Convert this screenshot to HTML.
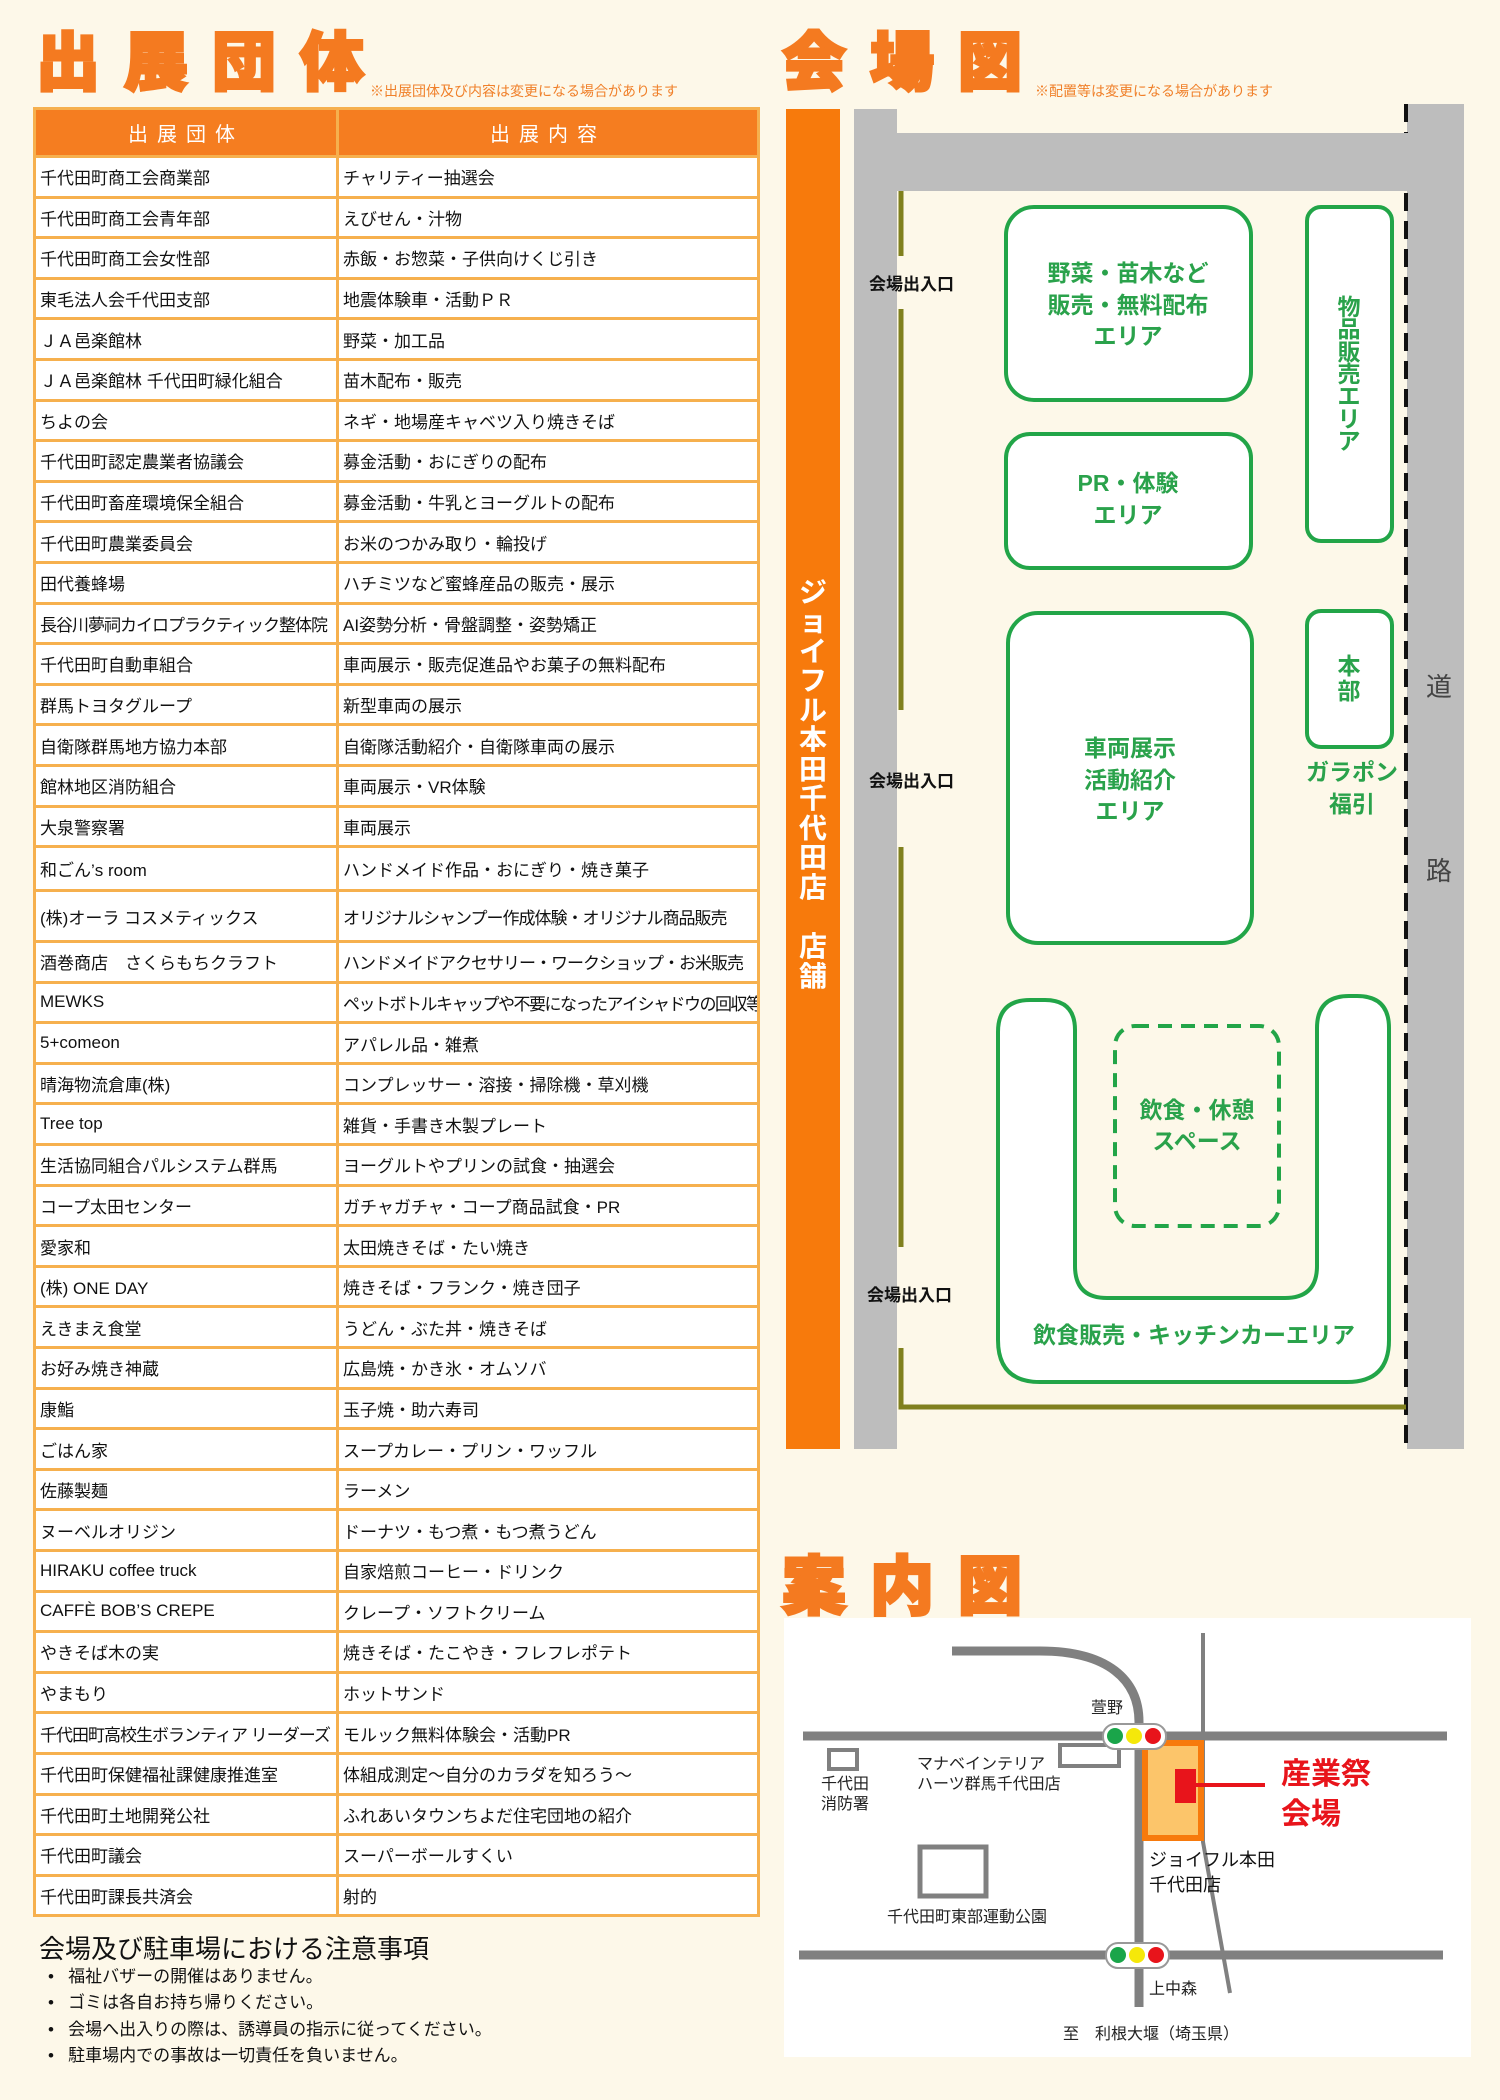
<!DOCTYPE html>
<html><head><meta charset="utf-8">
<style>
*{margin:0;padding:0;box-sizing:border-box}
body{width:1500px;height:2100px;background:#fdf8e9;position:relative;overflow:hidden;font-family:"Liberation Sans","Noto Sans CJK JP",sans-serif}
.abs{position:absolute}
.big{font-family:"Noto Sans CJK JP",sans-serif;font-weight:900;color:#f47a20;-webkit-text-stroke:3px #f47a20;font-size:64px;letter-spacing:24px;line-height:1;white-space:nowrap}
.note{color:#f0802a;font-size:14px;white-space:nowrap}
table{position:absolute;left:33px;top:107px;width:724px;border-collapse:collapse;table-layout:fixed}
td,th{border:3px solid #f6b04e;font-size:17px;color:#111;padding:0 0 0 4px;white-space:nowrap;overflow:hidden;background:#fff;text-align:left}
th{background:#f57d20;color:#fff;font-weight:normal;font-size:20px;letter-spacing:9px;text-align:center;padding:0}
tr{height:40.6px}
</style></head><body>
<div class="abs big" style="left:36px;top:26px">出展団体</div>
<div class="abs note" style="left:370px;top:81px">※出展団体及び内容は変更になる場合があります</div>
<div class="abs big" style="left:782px;top:26px">会場図</div>
<div class="abs note" style="left:1035px;top:81px">※配置等は変更になる場合があります</div>
<div class="abs big" style="left:782px;top:1550px">案内図</div>

<table>
<colgroup><col style="width:303px"><col style="width:421px"></colgroup>
<tr style="height:48px"><th>出展団体</th><th>出展内容</th></tr>
<tr><td>千代田町商工会商業部</td><td>チャリティー抽選会</td></tr>
<tr><td>千代田町商工会青年部</td><td>えびせん・汁物</td></tr>
<tr><td>千代田町商工会女性部</td><td>赤飯・お惣菜・子供向けくじ引き</td></tr>
<tr><td>東毛法人会千代田支部</td><td>地震体験車・活動ＰＲ</td></tr>
<tr><td>ＪＡ邑楽館林</td><td>野菜・加工品</td></tr>
<tr><td>ＪＡ邑楽館林 千代田町緑化組合</td><td>苗木配布・販売</td></tr>
<tr><td>ちよの会</td><td>ネギ・地場産キャベツ入り焼きそば</td></tr>
<tr><td>千代田町認定農業者協議会</td><td>募金活動・おにぎりの配布</td></tr>
<tr><td>千代田町畜産環境保全組合</td><td>募金活動・牛乳とヨーグルトの配布</td></tr>
<tr><td>千代田町農業委員会</td><td>お米のつかみ取り・輪投げ</td></tr>
<tr><td>田代養蜂場</td><td>ハチミツなど蜜蜂産品の販売・展示</td></tr>
<tr><td style="letter-spacing:-1px">長谷川夢祠カイロプラクティック整体院</td><td>AI姿勢分析・骨盤調整・姿勢矯正</td></tr>
<tr><td>千代田町自動車組合</td><td>車両展示・販売促進品やお菓子の無料配布</td></tr>
<tr><td>群馬トヨタグループ</td><td>新型車両の展示</td></tr>
<tr><td>自衛隊群馬地方協力本部</td><td>自衛隊活動紹介・自衛隊車両の展示</td></tr>
<tr><td>館林地区消防組合</td><td>車両展示・VR体験</td></tr>
<tr><td>大泉警察署</td><td>車両展示</td></tr>
<tr style="height:44px"><td>和ごん’s room</td><td>ハンドメイド作品・おにぎり・焼き菓子</td></tr>
<tr style="height:51px"><td>(株)オーラ コスメティックス</td><td style="letter-spacing:-1px">オリジナルシャンプー作成体験・オリジナル商品販売</td></tr>
<tr><td>酒巻商店　さくらもちクラフト</td><td style="letter-spacing:-1px">ハンドメイドアクセサリー・ワークショップ・お米販売</td></tr>
<tr><td>MEWKS</td><td style="letter-spacing:-1.5px">ペットボトルキャップや不要になったアイシャドウの回収等</td></tr>
<tr><td>5+comeon</td><td>アパレル品・雑煮</td></tr>
<tr><td>晴海物流倉庫(株)</td><td>コンプレッサー・溶接・掃除機・草刈機</td></tr>
<tr><td>Tree top</td><td>雑貨・手書き木製プレート</td></tr>
<tr><td>生活協同組合パルシステム群馬</td><td>ヨーグルトやプリンの試食・抽選会</td></tr>
<tr><td>コープ太田センター</td><td>ガチャガチャ・コープ商品試食・PR</td></tr>
<tr><td>愛家和</td><td>太田焼きそば・たい焼き</td></tr>
<tr><td>(株) ONE DAY</td><td>焼きそば・フランク・焼き団子</td></tr>
<tr><td>えきまえ食堂</td><td>うどん・ぶた丼・焼きそば</td></tr>
<tr><td>お好み焼き神蔵</td><td>広島焼・かき氷・オムソバ</td></tr>
<tr><td>康鮨</td><td>玉子焼・助六寿司</td></tr>
<tr><td>ごはん家</td><td>スープカレー・プリン・ワッフル</td></tr>
<tr><td>佐藤製麺</td><td>ラーメン</td></tr>
<tr><td>ヌーベルオリジン</td><td>ドーナツ・もつ煮・もつ煮うどん</td></tr>
<tr><td>HIRAKU coffee truck</td><td>自家焙煎コーヒー・ドリンク</td></tr>
<tr><td>CAFFÈ BOB’S CREPE</td><td>クレープ・ソフトクリーム</td></tr>
<tr><td>やきそば木の実</td><td>焼きそば・たこやき・フレフレポテト</td></tr>
<tr><td>やまもり</td><td>ホットサンド</td></tr>
<tr><td style="letter-spacing:-1px">千代田町高校生ボランティア リーダーズ</td><td>モルック無料体験会・活動PR</td></tr>
<tr><td>千代田町保健福祉課健康推進室</td><td>体組成測定～自分のカラダを知ろう～</td></tr>
<tr><td>千代田町土地開発公社</td><td>ふれあいタウンちよだ住宅団地の紹介</td></tr>
<tr><td>千代田町議会</td><td>スーパーボールすくい</td></tr>
<tr><td>千代田町課長共済会</td><td>射的</td></tr>
</table>

<div class="abs" style="left:39px;top:1929px;font-size:26px;color:#111;white-space:nowrap">会場及び駐車場における注意事項</div>
<div class="abs" style="left:48px;top:1964px;font-size:17px;line-height:26.3px;color:#111;white-space:nowrap">
<div>•&nbsp;&nbsp;&nbsp;福祉バザーの開催はありません。</div>
<div>•&nbsp;&nbsp;&nbsp;ゴミは各自お持ち帰りください。</div>
<div>•&nbsp;&nbsp;&nbsp;会場へ出入りの際は、誘導員の指示に従ってください。</div>
<div>•&nbsp;&nbsp;&nbsp;駐車場内での事故は一切責任を負いません。</div>
</div>

<svg class="abs" style="left:0;top:0" width="1500" height="2100" viewBox="0 0 1500 2100" font-family="Liberation Sans, Noto Sans CJK JP, sans-serif">
<rect x="786" y="109" width="54" height="1340" fill="#f77a0c"/>
<g fill="#fff" font-size="28" font-weight="bold" text-anchor="middle">
<text x="813" y="602">ジ</text><text x="813" y="631">ョ</text><text x="813" y="661">イ</text><text x="813" y="690">フ</text><text x="813" y="720">ル</text><text x="813" y="749">本</text><text x="813" y="779">田</text><text x="813" y="808">千</text><text x="813" y="838">代</text><text x="813" y="867">田</text><text x="813" y="897">店</text><text x="813" y="956">店</text><text x="813" y="986">舗</text>
</g>
<rect x="854" y="109" width="43" height="1340" fill="#bdbdbd"/>
<rect x="897" y="133" width="510" height="58" fill="#bdbdbd"/>
<rect x="1407" y="104" width="57" height="1345" fill="#bdbdbd"/>
<line x1="1406" y1="104" x2="1406" y2="133" stroke="#111" stroke-width="4" stroke-dasharray="18 10"/>
<line x1="1406" y1="193" x2="1406" y2="1449" stroke="#111" stroke-width="4" stroke-dasharray="18 10"/>
<g stroke="#80801e" stroke-width="5" fill="none">
<line x1="901" y1="191" x2="901" y2="256"/>
<line x1="901" y1="309" x2="901" y2="710"/>
<line x1="901" y1="847" x2="901" y2="1247"/>
<polyline points="901,1348 901,1407 1406,1407"/>
</g>
<g font-size="17" font-weight="bold" fill="#111">
<text x="869" y="290">会場出入口</text>
<text x="869" y="787">会場出入口</text>
<text x="867" y="1301">会場出入口</text>
</g>
<g fill="#fff" stroke="#22a548" stroke-width="4">
<rect x="1006" y="207" width="245" height="193" rx="28"/>
<rect x="1006" y="434" width="245" height="134" rx="24"/>
<rect x="1307" y="207" width="85" height="334" rx="14"/>
<rect x="1008" y="613" width="244" height="330" rx="30"/>
<rect x="1307" y="611" width="85" height="136" rx="14"/>
<path d="M1030,1000 L1045,1000 Q1075,1000 1075,1030 L1075,1266 Q1075,1298 1107,1298 L1285,1298 Q1317,1298 1317,1266 L1317,1028 Q1317,996 1349,996 L1357,996 Q1389,996 1389,1028 L1389,1340 Q1389,1382 1347,1382 L1040,1382 Q998,1382 998,1340 L998,1032 Q998,1000 1030,1000 Z"/>
<rect x="1115" y="1026" width="164" height="200" rx="20" fill="none" stroke-dasharray="14 9"/>
</g>
<g fill="#2aa24b" font-size="23" font-weight="bold" text-anchor="middle">
<text x="1128" y="281">野菜・苗木など</text>
<text x="1128" y="313">販売・無料配布</text>
<text x="1128" y="344">エリア</text>
<text x="1128" y="491">PR・体験</text>
<text x="1128" y="523">エリア</text>
<text x="1130" y="756">車両展示</text>
<text x="1130" y="788">活動紹介</text>
<text x="1130" y="819">エリア</text>
<text x="1197" y="1118">飲食・休憩</text>
<text x="1197" y="1149">スペース</text>
<text x="1194" y="1343">飲食販売・キッチンカーエリア</text>
<text x="1352" y="780">ガラポン</text>
<text x="1352" y="812">福引</text>
<text x="1349" y="674">本</text><text x="1349" y="699">部</text>
<text x="1349" y="315">物</text><text x="1349" y="337">品</text><text x="1349" y="360">販</text><text x="1349" y="382">売</text><text x="1349" y="404">エ</text><text x="1349" y="427">リ</text><text x="1349" y="449">ア</text>
</g>
<g fill="#444" font-size="26" text-anchor="middle">
<text x="1439" y="696">道</text><text x="1439" y="880">路</text>
</g>

<rect x="784" y="1618" width="687" height="439" fill="#fff"/>
<g stroke="#808080" stroke-width="9" fill="none">
<line x1="803" y1="1736" x2="1447" y2="1736"/>
<line x1="799" y1="1955" x2="1443" y2="1955"/>
<path d="M952,1651 L1040,1651 C1108,1651 1139,1680 1139,1722 L1139,2007"/>
</g>
<polyline points="1203,1633 1203,1842 1230,1993" stroke="#808080" stroke-width="4" fill="none"/>
<rect x="1145" y="1743" width="56" height="95" fill="#fcc56a" stroke="#f77a0c" stroke-width="6"/>
<rect x="1175" y="1769" width="21" height="34" fill="#e8141b"/>
<line x1="1196" y1="1785" x2="1265" y2="1785" stroke="#e8141b" stroke-width="4"/>
<g fill="#e8141b" font-size="30" font-weight="bold"><text x="1281" y="1784">産業祭</text><text x="1281" y="1824">会場</text></g>
<g fill="none" stroke="#808080" stroke-width="4">
<rect x="829" y="1750" width="28" height="19"/>
<rect x="1060" y="1745" width="59" height="21"/>
<rect x="920" y="1847" width="66" height="49" stroke-width="5"/>
</g>
<g>
<rect x="1103" y="1724" width="63" height="25" rx="12" fill="#fff" stroke="#999" stroke-width="2"/>
<circle cx="1115" cy="1736" r="8" fill="#1aa54a"/><circle cx="1134" cy="1736" r="8" fill="#f5e80a"/><circle cx="1153" cy="1736" r="8" fill="#e8141b"/>
<rect x="1106" y="1943" width="63" height="25" rx="12" fill="#fff" stroke="#999" stroke-width="2"/>
<circle cx="1118" cy="1955" r="8" fill="#1aa54a"/><circle cx="1137" cy="1955" r="8" fill="#f5e80a"/><circle cx="1156" cy="1955" r="8" fill="#e8141b"/>
</g>
<g fill="#222" font-size="16">
<text x="1091" y="1713">萱野</text>
<text x="821" y="1789">千代田</text><text x="821" y="1809">消防署</text>
<text x="917" y="1769">マナベインテリア</text><text x="917" y="1789">ハーツ群馬千代田店</text>
<text x="887" y="1922">千代田町東部運動公園</text>
<text x="1149" y="1994">上中森</text>
<text x="1063" y="2039">至　利根大堰（埼玉県）</text>
</g>
<g fill="#111" font-size="18"><text x="1149" y="1866">ジョイフル本田</text><text x="1149" y="1891">千代田店</text></g>
</svg>
</body></html>
